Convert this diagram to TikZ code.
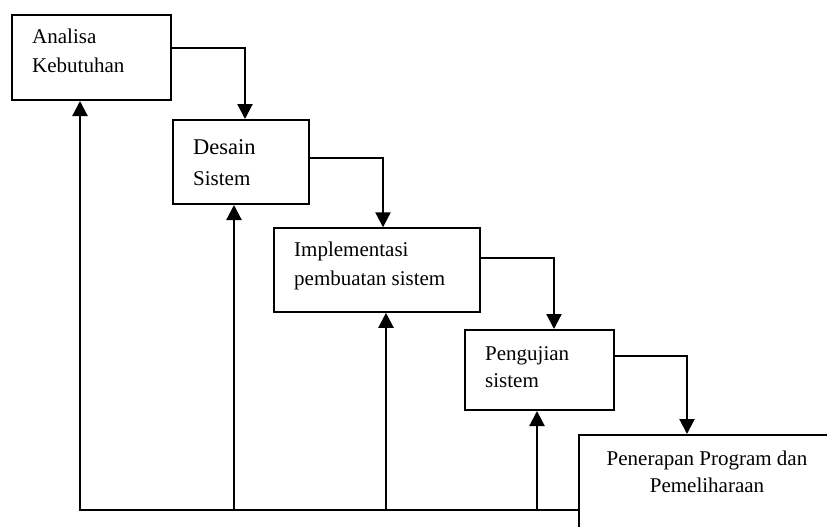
\documentclass[tikz,border=0pt]{standalone}
\usepackage{fontspec}
\setmainfont{Liberation Serif}
\usetikzlibrary{arrows.meta}
\begin{document}
\begin{tikzpicture}[x=1pt,y=-1pt,
  stage/.style={draw,line width=2pt,rectangle,inner sep=0pt,anchor=north west,fill=white},
  caption/.style={anchor=base west,inner sep=0pt,font=\fontsize{21}{28}\selectfont},
  link/.style={line width=2.2pt},
  flow/.style={link,-{Triangle[width=15pt,length=15pt]}}]
\useasboundingbox (0,0) rectangle (827,527);
\clip (0,0) rectangle (827,527);

% waterfall stages
\node[stage,minimum width=159pt,minimum height=85pt]  (b1) at (11,14) {};
\node[stage,minimum width=136pt,minimum height=84pt]  (b2) at (172,119) {};
\node[stage,minimum width=206pt,minimum height=83.5pt] (b3) at (273,227.3) {};
\node[stage,minimum width=149pt,minimum height=80pt]  (b4) at (464,329) {};
\node[stage,minimum width=258pt,minimum height=126pt] (b5) at (578,434) {};

% stage texts
\node[caption] (t1a) at (32,44) {Analisa};
\node[caption] (t1b) at (32,72) {Kebutuhan};
\node[caption,font=\fontsize{22.5}{28}\selectfont] (t2a) at (193,154) {Desain};
\node[caption] (t2b) at (193,185) {Sistem};
\node[caption] (t3a) at (294,256.5) {Implementasi};
\node[caption] (t3b) at (294,285.5) {pembuatan sistem};
\node[caption] (t4a) at (485,360) {Pengujian};
\node[caption] (t4b) at (485,387) {sistem};
\node[caption,anchor=base] (t5a) at (707,465) {Penerapan Program dan};
\node[caption,anchor=base] (t5b) at (707,492.7) {Pemeliharaan};

% forward flow
\draw[flow] (b1.east |- 0,48)    -| (b2.north -| 245,0);
\draw[flow] (b2.east |- 0,157.7) -| (b3.north -| 383,0);
\draw[flow] (b3.east |- 0,257.7) -| (b4.north -| 554,0);
\draw[flow] (b4.east |- 0,355.7) -| (b5.north -| 687,0);

% feedback lines
\coordinate (r1) at (80,510);
\coordinate (r2) at (234,510);
\coordinate (r3) at (386,510);
\coordinate (r4) at (537,510);
\draw[flow] (b5.west |- r1) -- (r1) -- (r1 |- b1.south);
\draw[flow] (r2) -- (r2 |- b2.south);
\draw[flow] (r3) -- (r3 |- b3.south);
\draw[flow] (r4) -- (r4 |- b4.south);
\end{tikzpicture}
\end{document}
